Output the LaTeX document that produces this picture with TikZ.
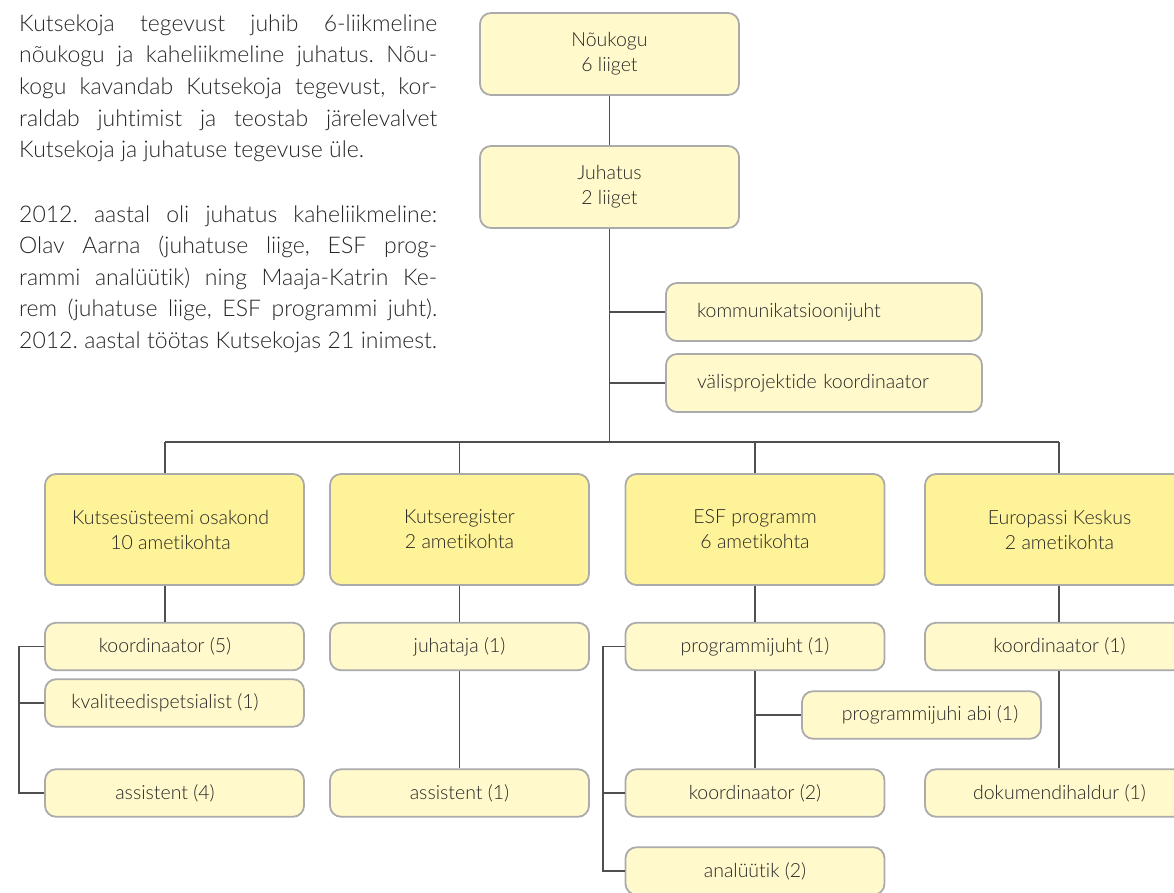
\documentclass[tikz,border=0pt]{standalone}
\usepackage{fontspec}
\setmainfont{Lato}[UprightFont=* Light, Ligatures=NoCommon]
\definecolor{topfill}{HTML}{FFF399}
\definecolor{subfill}{HTML}{FFF9CC}
\definecolor{bord}{HTML}{ABABAB}
\definecolor{conn}{HTML}{4F4F4F}
\definecolor{txt}{HTML}{262626}
\frenchspacing
\begin{document}
\begin{tikzpicture}[x=1pt,y=-1pt,
  box/.style={draw=bord, line width=1.8pt, rounded corners=11pt, text=txt, inner sep=0pt,
    font=\fontsize{19.5}{25}\selectfont, align=center},
  topbox/.style={box, fill=topfill, minimum width=259pt, minimum height=111pt},
  subbox/.style={box, fill=subfill, minimum width=259pt, minimum height=47.5pt},
  headbox/.style={box, fill=subfill, minimum width=259pt, minimum height=82pt},
  sidebox/.style={box, fill=subfill, minimum width=316pt, minimum height=58pt,
    text width=254pt, inner xsep=31pt, align=left},
  conline/.style={draw=conn, line width=1.4pt},
  body/.style={anchor=base west, inner sep=0pt, text=txt, font=\fontsize{23}{31.6}\selectfont}]
\useasboundingbox (0,0) rectangle (1174,892);
\begin{scope}
\clip (0,0) rectangle (1174,892);

% body text
\node[body] (t1) at (19,31) {\makebox[418pt][s]{Kutsekoja tegevust juhib 6-liikmeline}};
\node[body] (t2) at (19,62.7) {\makebox[418pt][s]{nõukogu ja kaheliikmeline juhatus. Nõu-}};
\node[body] (t3) at (19,94.3) {\makebox[418pt][s]{kogu kavandab Kutsekoja tegevust, kor-}};
\node[body] (t4) at (19,126) {\makebox[418pt][s]{raldab juhtimist ja teostab järelevalvet}};
\node[body] (t5) at (19,157.7) {Kutsekoja ja juhatuse tegevuse üle.};
\node[body] (t6) at (19,222) {\makebox[418pt][s]{2012. aastal oli juhatus kaheliikmeline:}};
\node[body] (t7) at (19,253.6) {\makebox[418pt][s]{Olav Aarna (juhatuse liige, ESF prog-}};
\node[body] (t8) at (19,285.2) {\makebox[418pt][s]{rammi analüütik) ning Maaja-Katrin Ke-}};
\node[body] (t9) at (19,316.8) {\makebox[418pt][s]{rem (juhatuse liige, ESF programmi juht).}};
\node[body] (t10) at (19,348.4) {\makebox[418pt][s]{2012. aastal töötas Kutsekojas 21 inimest.}};

% boxes
\node[headbox] (nou) at (609.5,54) {Nõukogu\\6 liiget};
\node[headbox] (juh) at (609.5,187) {Juhatus\\2 liiget};
\node[sidebox] (komm) at (824,312) {kommunikatsioonijuht};
\node[sidebox] (val) at (824,383) {välisprojektide koordinaator};

\node[topbox] (k1) at (174.5,529.5) {\hspace*{-8pt}Kutsesüsteemi osakond\\\hspace*{-8pt}10 ametikohta};
\node[topbox] (k2) at (459.5,529.5) {Kutseregister\\2 ametikohta};
\node[topbox] (esf) at (755,529.5) {ESF programm\\6 ametikohta};
\node[topbox] (eur) at (1054.5,529.5) {\hspace*{10pt}Europassi Keskus\\\hspace*{10pt}2 ametikohta};

\node[subbox] (s11) at (174.5,646.5) {\hspace*{-19pt}koordinaator (5)};
\node[subbox] (s12) at (174.5,703) {\hspace*{-19pt}kvaliteedispetsialist (1)};
\node[subbox] (s13) at (174.5,793) {\hspace*{-19pt}assistent (4)};
\node[subbox] (s21) at (459.5,646.5) {juhataja (1)};
\node[subbox] (s22) at (459.5,793) {assistent (1)};
\node[subbox] (s31) at (755,646.5) {programmijuht (1)};
\node[subbox, minimum width=239pt] (abi) at (921.5,715) {\hspace*{17pt}programmijuhi abi (1)};
\node[subbox] (s33) at (755,793) {koordinaator (2)};
\node[subbox] (s34) at (755,871) {analüütik (2)};
\node[subbox] (s41) at (1054.5,646.5) {\hspace*{10pt}koordinaator (1)};
\node[subbox] (s42) at (1054.5,793) {\hspace*{10pt}dokumendihaldur (1)};

% connectors
\coordinate (c1) at (165,442);
\coordinate (c2) at (459.5,442);
\coordinate (c3) at (755,442);
\coordinate (c4) at (1059,442);
\coordinate (b1) at (19,0);
\coordinate (b3) at (603,0);

\draw[conline] (nou.south) -- (juh.north);
\draw[conline] (juh.south) -- (juh.south |- c1);
\draw[conline] (juh.south |- komm.west) -- (komm.west);
\draw[conline] (juh.south |- val.west) -- (val.west);
\draw[conline] (c1) -- (c4);
\draw[conline] (c1) -- (c1 |- k1.north);
\draw[conline] (c2) -- (c2 |- k2.north);
\draw[conline] (c3) -- (c3 |- esf.north);
\draw[conline] (c4) -- (c4 |- eur.north);
\draw[conline] (c1 |- k1.south) -- (c1 |- s11.north);
\draw[conline] (c2 |- k2.south) -- (c2 |- s21.north);
\draw[conline] (c3 |- esf.south) -- (c3 |- s31.north);
\draw[conline] (c4 |- eur.south) -- (c4 |- s41.north);
\draw[conline] (s21.south) -- (s22.north);
\draw[conline] (s31.south) -- (s33.north);
\draw[conline] (c4 |- s41.south) -- (c4 |- s42.north);
\draw[conline] (c3 |- abi.west) -- (abi.west);
\draw[conline] (s11.west) -- (s11.west -| b1) -- (s13.west -| b1) -- (s13.west);
\draw[conline] (s12.west -| b1) -- (s12.west);
\draw[conline] (s31.west) -- (s31.west -| b3) -- (s34.west -| b3) -- (s34.west);
\draw[conline] (s33.west -| b3) -- (s33.west);
\end{scope}
\end{tikzpicture}
\end{document}
